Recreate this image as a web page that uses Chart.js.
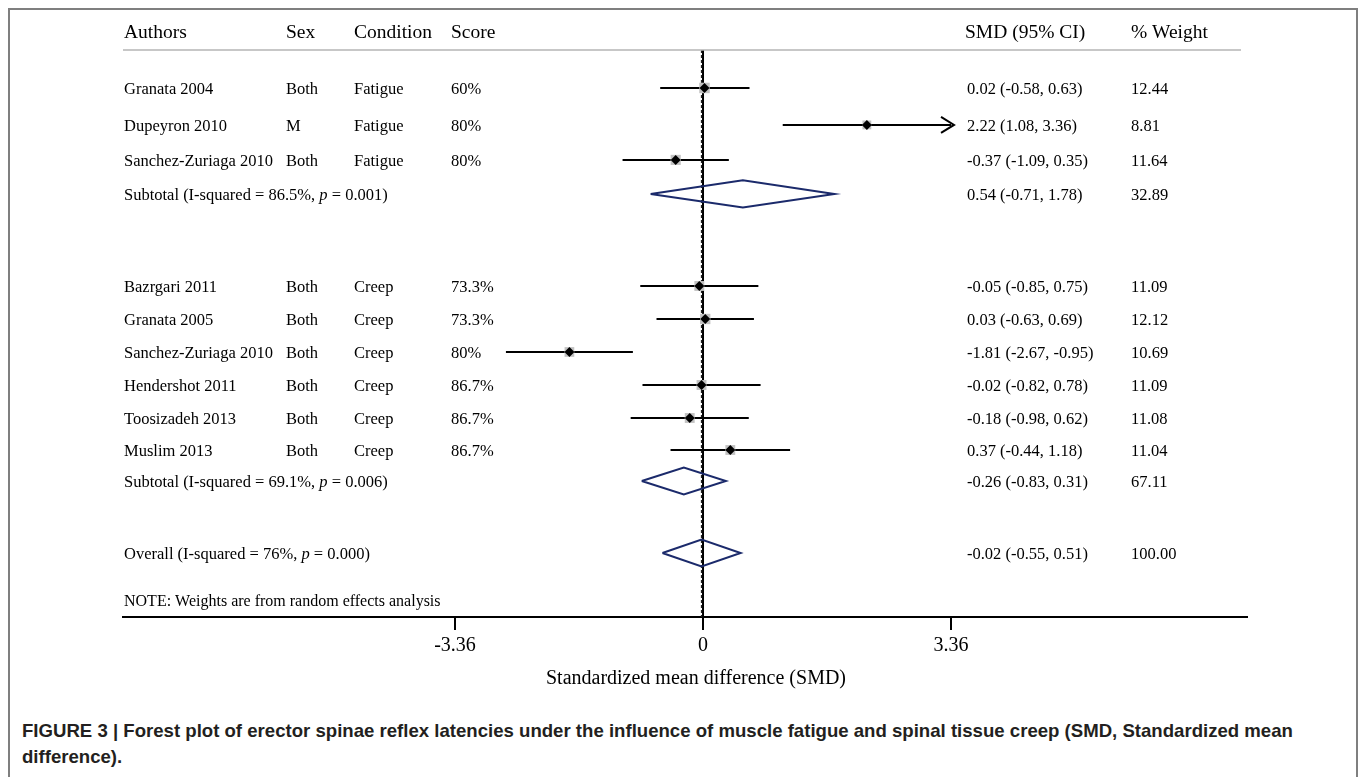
<!DOCTYPE html>
<html>
<head>
<meta charset="utf-8">
<script src="https://cdn.jsdelivr.net/npm/chart.js@4.4.1/dist/chart.umd.min.js"></script>
<style>
  body { margin: 0; background: #fff; }
  .frame { position: absolute; left: 8px; top: 8px; width: 1346px; height: 800px;
           border: 2px solid #7f7f7f; border-bottom: none; }
  #forest { position: absolute; left: 0; top: 0; }
  .caption { position: absolute; left: 22px; top: 718px; white-space: nowrap;
             font: bold 18.6px "Liberation Sans", Arial, sans-serif; line-height: 26px; color: #231f20; }
</style>
</head>
<body>
<div class="frame"></div>
<canvas id="forest" width="1363" height="700"></canvas>
<div class="caption">FIGURE 3 | Forest plot of erector spinae reflex latencies under the influence of muscle fatigue and spinal tissue creep (SMD, Standardized mean<br>difference).</div>
<script>
// studies
const authors = ['Granata 2004', 'Dupeyron 2010', 'Sanchez-Zuriaga 2010', 'Bazrgari 2011', 'Granata 2005',
  'Sanchez-Zuriaga 2010', 'Hendershot 2011', 'Toosizadeh 2013', 'Muslim 2013'];
const sex = ['Both', 'M', 'Both', 'Both', 'Both', 'Both', 'Both', 'Both', 'Both'];
const condition = ['Fatigue', 'Fatigue', 'Fatigue', 'Creep', 'Creep', 'Creep', 'Creep', 'Creep', 'Creep'];
const score = ['60%', '80%', '80%', '73.3%', '73.3%', '80%', '86.7%', '86.7%', '86.7%'];
const smd = [0.02, 2.22, -0.37, -0.05, 0.03, -1.81, -0.02, -0.18, 0.37];
const ciLow = [-0.58, 1.08, -1.09, -0.85, -0.63, -2.67, -0.82, -0.98, -0.44];
const ciHigh = [0.63, 3.36, 0.35, 0.75, 0.69, -0.95, 0.78, 0.62, 1.18];
const weight = [12.44, 8.81, 11.64, 11.09, 12.12, 10.69, 11.09, 11.08, 11.04];

// pooled estimates
const pooledName = ['Subtotal', 'Subtotal', 'Overall'];
const pooledI2 = ['86.5%', '69.1%', '76%'];
const pooledP = ['0.001', '0.006', '0.000'];
const pooledSmd = [0.54, -0.26, -0.02];
const pooledLow = [-0.71, -0.83, -0.55];
const pooledHigh = [1.78, 0.31, 0.51];
const pooledWeight = [32.89, 67.11, 100.00];

const tickValues = [-3.36, 0, 3.36];

// layout: row slots on the y scale
const studyRow = [1.15, 2.27, 3.33, 7.15, 8.15, 9.15, 10.15, 11.15, 12.12];
const pooledRow = [4.36, 13.06, 15.24];
const headerRow = -0.52, noteRow = 16.72, yMax = 17.18;
const diamondHalf = 0.41;

const NAVY = '#1b2a6b';
const SERIF = '"Liberation Serif", "Times New Roman", serif';
const f2 = v => v.toFixed(2);

const datasets = [];
// CI lines
authors.forEach((a, i) => {
  datasets.push({
    type: 'line', data: [{ x: ciLow[i], y: studyRow[i] }, { x: ciHigh[i], y: studyRow[i] }],
    borderColor: '#000', borderWidth: 2, pointRadius: 0, order: 3
  });
});
// weight boxes + point estimates
datasets.push({
  type: 'scatter', data: smd.map((v, i) => ({ x: v, y: studyRow[i] })),
  pointStyle: 'rect', backgroundColor: '#c2c2c2', borderWidth: 0,
  pointRadius: ctx => Math.sqrt(weight[ctx.dataIndex]) * 2.1, order: 2
});
datasets.push({
  type: 'scatter', data: smd.map((v, i) => ({ x: v, y: studyRow[i] })),
  pointStyle: 'rectRot', backgroundColor: '#000', borderWidth: 0, pointRadius: 5, order: 1
});
// pooled diamonds
pooledSmd.forEach((v, i) => {
  const r = pooledRow[i];
  datasets.push({
    type: 'line',
    data: [{ x: pooledLow[i], y: r }, { x: v, y: r - diamondHalf }, { x: pooledHigh[i], y: r },
           { x: v, y: r + diamondHalf }, { x: pooledLow[i], y: r }],
    borderColor: NAVY, borderWidth: 2, pointRadius: 0, tension: 0, fill: false, order: 4
  });
});
// no-effect line and overall dashed line
datasets.push({
  type: 'line', data: [{ x: 0, y: 0 }, { x: 0, y: yMax }],
  borderColor: '#000', borderWidth: 2, pointRadius: 0, order: 6
});
datasets.push({
  type: 'line', data: [{ x: pooledSmd[2], y: 0 }, { x: pooledSmd[2], y: yMax }],
  borderColor: '#222', borderWidth: 1.3, borderDash: [3, 2], pointRadius: 0, order: 5
});

function drawSegs(ctx, segs, x, y, size) {
  segs.forEach(([t, italic]) => {
    ctx.font = (italic ? 'italic ' : '') + size + 'px ' + SERIF;
    ctx.fillText(t, x, y);
    x += ctx.measureText(t).width;
  });
}

const tablePlugin = {
  id: 'table',
  afterDraw(chart) {
    const { ctx, scales: { x, y } } = chart;
    ctx.save();
    ctx.fillStyle = '#000';
    ctx.textBaseline = 'middle';
    ctx.textAlign = 'left';
    const cols = [124, 286, 354, 451];
    const smdX = 967, wX = 1131;

    // header
    ctx.font = '19.5px ' + SERIF;
    const hy = y.getPixelForValue(headerRow);
    ['Authors', 'Sex', 'Condition', 'Score'].forEach((t, i) => ctx.fillText(t, cols[i], hy));
    ctx.fillText('SMD (95% CI)', 965, hy);
    ctx.fillText('% Weight', wX, hy);
    ctx.strokeStyle = '#b5b5b5';
    ctx.lineWidth = 1.5;
    ctx.beginPath();
    ctx.moveTo(123, y.getPixelForValue(0));
    ctx.lineTo(1241, y.getPixelForValue(0));
    ctx.stroke();

    // study rows
    ctx.font = '16.5px ' + SERIF;
    authors.forEach((a, i) => {
      const py = y.getPixelForValue(studyRow[i]) + 2;
      ctx.fillText(a, cols[0], py);
      ctx.fillText(sex[i], cols[1], py);
      ctx.fillText(condition[i], cols[2], py);
      ctx.fillText(score[i], cols[3], py);
      ctx.fillText(`${f2(smd[i])} (${f2(ciLow[i])}, ${f2(ciHigh[i])})`, smdX, py);
      ctx.fillText(f2(weight[i]), wX, py);
    });

    // pooled rows
    pooledSmd.forEach((v, i) => {
      const py = y.getPixelForValue(pooledRow[i]) + 2;
      drawSegs(ctx, [[`${pooledName[i]} (I-squared = ${pooledI2[i]}, `, false], ['p', true],
        [` = ${pooledP[i]})`, false]], cols[0], py, 16.5);
      ctx.font = '16.5px ' + SERIF;
      ctx.fillText(`${f2(v)} (${f2(pooledLow[i])}, ${f2(pooledHigh[i])})`, smdX, py);
      ctx.fillText(f2(pooledWeight[i]), wX, py);
    });

    ctx.font = '16px ' + SERIF;
    ctx.fillText('NOTE: Weights are from random effects analysis', cols[0], y.getPixelForValue(noteRow));

    // arrow where CI reaches the displayed limit
    ctx.strokeStyle = '#000';
    ctx.lineWidth = 2;
    ciHigh.forEach((hi, i) => {
      if (hi < tickValues[2]) return;
      const ax = x.getPixelForValue(hi) + 3, ay = y.getPixelForValue(studyRow[i]);
      ctx.beginPath();
      ctx.moveTo(ax - 13, ay - 8);
      ctx.lineTo(ax, ay);
      ctx.lineTo(ax - 13, ay + 8);
      ctx.stroke();
    });

    // axis title
    ctx.textAlign = 'center';
    ctx.font = '20px ' + SERIF;
    ctx.fillText('Standardized mean difference (SMD)', 696, 679);
    ctx.restore();
  }
};

new Chart(document.getElementById('forest'), {
  data: { datasets },
  options: {
    responsive: false,
    animation: false,
    layout: { padding: { left: 123, right: 116, top: 50, bottom: 3 } },
    plugins: { legend: { display: false }, tooltip: { enabled: false } },
    scales: {
      x: {
        type: 'linear', position: 'bottom', min: -7.858, max: 7.37,
        afterBuildTicks: s => { s.ticks = tickValues.map(v => ({ value: v })); },
        afterFit: s => { s.height = 80; },
        grid: { drawOnChartArea: false, drawTicks: true, tickLength: 13, color: '#000', lineWidth: 2 },
        border: { display: true, color: '#000', width: 2 },
        ticks: {
          autoSkip: false, maxRotation: 0, padding: 4, color: '#000',
          font: { family: SERIF, size: 20 },
          callback: v => (v === 0 ? '0' : v.toFixed(2))
        }
      },
      y: { type: 'linear', display: false, reverse: true, min: 0, max: yMax }
    }
  },
  plugins: [tablePlugin]
});
</script>
</body>
</html>
